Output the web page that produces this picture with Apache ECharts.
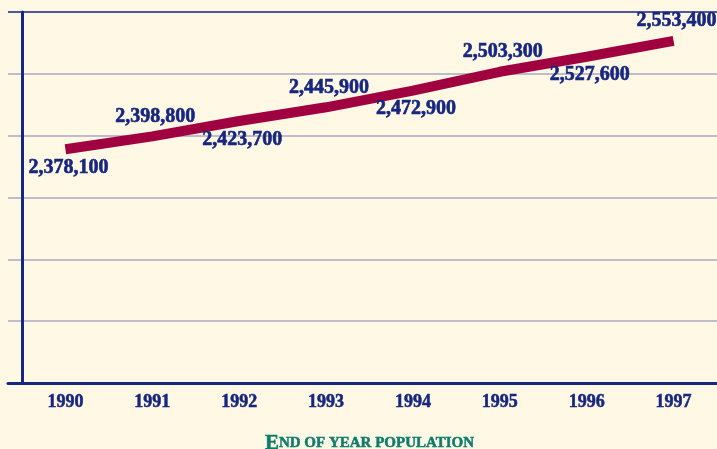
<!DOCTYPE html>
<html>
<head>
<meta charset="utf-8">
<script src="https://cdn.jsdelivr.net/npm/echarts@6/dist/echarts.min.js"></script>
<style>
  html, body { margin: 0; padding: 0; background: #fef8e4; }
  #chart { width: 717px; height: 449px; }
</style>
</head>
<body>
<div id="chart"></div>
<script>
// 年末人口
const years = ['1990', '1991', '1992', '1993', '1994', '1995', '1996', '1997'];
const population = [2378100, 2398800, 2423700, 2445900, 2472900, 2503300, 2527600, 2553400];
// 标签上下交替
const labelSides = ['bottom', 'top', 'bottom', 'top', 'bottom', 'top', 'bottom', 'top'];

const NAVY = '#17267f';
const GRID = '#aba7c6';
const TEAL = '#0d7c6b';
const FONT = "'Liberation Serif', 'DejaVu Serif', serif";

const yRange = { min: 2000000, max: 2600000, interval: 100000 };
// 最上面一条线是深蓝色
const splitColors = [GRID, GRID, GRID, GRID, GRID, GRID, NAVY];

const chart = echarts.init(document.getElementById('chart'));

const option = {
    backgroundColor: '#fef8e4',
    animation: false,
    grid: [
        { left: 22, right: 0, top: 12, bottom: 66, outerBoundsMode: 'none', containLabel: false },
        { left: 8, width: 14, top: 12, bottom: 66, outerBoundsMode: 'none', containLabel: false }
    ],
    xAxis: [
        {
            type: 'category',
            gridIndex: 0,
            data: years,
            boundaryGap: true,
            axisLine: { lineStyle: { color: NAVY, width: 3 } },
            axisTick: { alignWithLabel: true, length: 9, lineStyle: { color: GRID, width: 2 } },
            axisLabel: {
                color: NAVY, fontFamily: FONT, fontWeight: 'bold', fontSize: 18, margin: 10,
                textBorderColor: NAVY, textBorderWidth: 0.5
            },
            name: '{a|E}{b|ND OF YEAR POPULATION}',
            nameLocation: 'middle',
            nameGap: 50,
            nameTextStyle: {
                color: TEAL,
                fontFamily: FONT,
                fontWeight: 'bold',
                rich: {
                    a: { fontSize: 21, color: TEAL, fontFamily: FONT, fontWeight: 'bold', textBorderColor: TEAL, textBorderWidth: 0.5 },
                    b: { fontSize: 15, color: TEAL, fontFamily: FONT, fontWeight: 'bold', textBorderColor: TEAL, textBorderWidth: 0.5 }
                }
            }
        },
        {
            type: 'category',
            gridIndex: 1,
            data: [''],
            axisLine: { lineStyle: { color: NAVY, width: 3 } },
            axisTick: { show: false },
            axisLabel: { show: false }
        }
    ],
    yAxis: [
        {
            type: 'value',
            gridIndex: 0,
            ...yRange,
            axisLine: { show: true, lineStyle: { color: NAVY, width: 3 } },
            axisTick: { show: false },
            axisLabel: { show: false },
            splitLine: { lineStyle: { color: splitColors, width: 1.5 } }
        },
        {
            type: 'value',
            gridIndex: 1,
            ...yRange,
            axisLine: { show: false },
            axisTick: { show: false },
            axisLabel: { show: false },
            splitLine: { lineStyle: { color: splitColors, width: 1.5 } }
        }
    ],
    series: [
        {
            type: 'line',
            xAxisIndex: 0,
            yAxisIndex: 0,
            data: population.map((v, i) => ({
                value: v,
                label: { position: labelSides[i], distance: labelSides[i] === 'top' ? 9 : 8 }
            })),
            symbol: 'circle',
            symbolSize: 1,
            itemStyle: { color: 'rgba(0,0,0,0)' },
            lineStyle: { color: '#a0003f', width: 10, cap: 'butt' },
            label: {
                show: true,
                color: NAVY,
                fontFamily: FONT,
                fontWeight: 'bold',
                fontSize: 20,
                offset: [3, 0],
                textBorderColor: NAVY,
                textBorderWidth: 0.6,
                formatter: (p) => p.value.toLocaleString('en-US')
            }
        }
    ]
};

chart.setOption(option);
</script>
</body>
</html>
